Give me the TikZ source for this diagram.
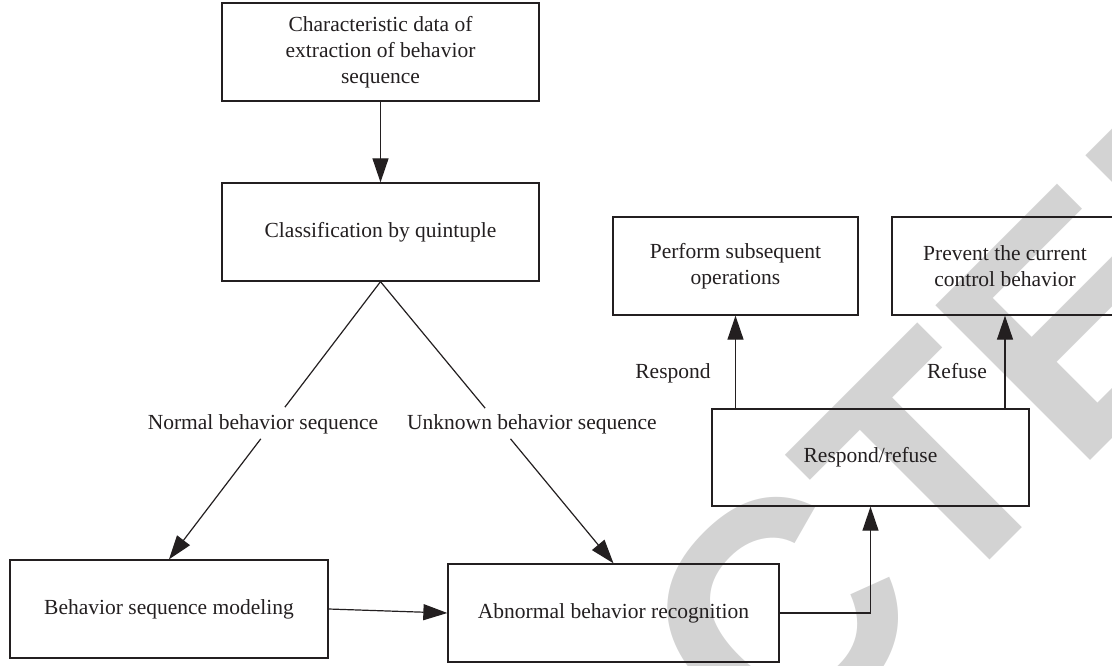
\documentclass[tikz,border=0pt]{standalone}
\usepackage{fontspec}
\setmainfont{Liberation Serif}
\newfontfamily\wmfont{Liberation Sans}
\usetikzlibrary{arrows.meta,calc}
\definecolor{ink}{HTML}{231F20}
\definecolor{wm}{HTML}{D3D3D3}
\begin{document}
\begin{tikzpicture}[x=1pt,y=-1pt,
  box/.style={draw=ink,line width=1.3pt,align=center,inner sep=0pt,minimum height=98pt,text=ink,font=\fontsize{21.5}{26}\selectfont},
  lbl/.style={text=ink,font=\fontsize{21.5}{26}\selectfont,inner sep=0pt},
  conn/.style={draw=ink,line width=1.2pt},
  arr/.style={conn,-{Triangle[length=24pt,width=16pt]}}]
\useasboundingbox (0,0) rectangle (1112,665);
% watermark
\node[rotate=45,text=wm,font=\wmfont\bfseries\fontsize{318}{318}\selectfont,inner sep=0pt] (wmk) at (617,779) {RETRACTED};
% boxes
\node[box,minimum width=317pt] (A) at (380.5,52) {Characteristic data of\\extraction of behavior\\sequence};
\node[box,minimum width=317pt] (B) at (380.5,232) {Classification by quintuple};
\node[box,minimum width=318pt] (C) at (169,609) {Behavior sequence modeling};
\node[box,minimum width=331pt] (D) at (613.5,613) {Abnormal behavior recognition};
\node[box,minimum width=317pt,minimum height=97pt] (E) at (870.5,457.5) {Respond/refuse};
\node[box,minimum width=245pt] (F) at (735.5,266) {Perform subsequent\\operations};
\node[box,minimum width=226pt] (G) at (1005,266) {Prevent the current\\control behavior};
% labels
\node[lbl] (ln) at (263,424) {Normal behavior sequence};
\node[lbl] (lu) at (532,424) {Unknown behavior sequence};
\node[lbl] (lr) at (673,373) {Respond};
\node[lbl] (lf) at (957,371) {Refuse};
% connectors
\draw[arr] (A.south) -- (B.north);
\draw[conn] (B.south) -- ($(B.south)!0.452!(C.north)$);
\draw[arr] ($(B.south)!0.566!(C.north)$) -- (C.north);
\draw[conn] (B.south) -- ($(B.south)!0.449!(D.north)$);
\draw[arr] ($(B.south)!0.558!(D.north)$) -- (D.north);
\draw[arr] (C.east) -- (D.west);
\draw[arr] (D.east) -| (E.south);
\draw[arr] (E.north -| F.south) -- (F.south);
\draw[arr] (E.north -| G.south) -- (G.south);
\end{tikzpicture}
\end{document}
